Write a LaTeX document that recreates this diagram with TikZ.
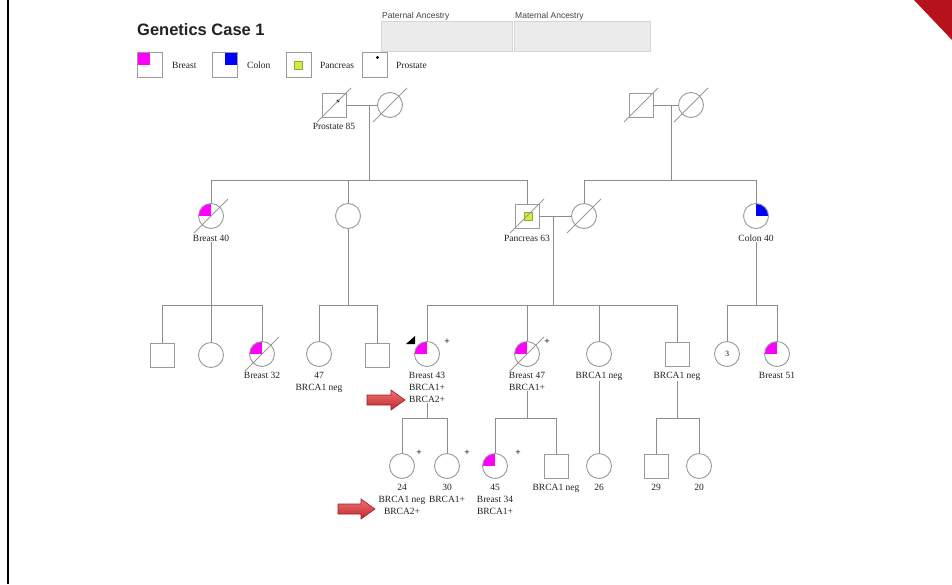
\documentclass[tikz,border=0pt]{standalone}
\usepackage{fontspec}
\setmainfont{Liberation Serif}
\newfontfamily\sansf{Liberation Sans}
\usetikzlibrary{calc}

\definecolor{symc}{HTML}{9A9A9A}
\definecolor{linec}{HTML}{8C8C8C}
\definecolor{brc}{HTML}{FF00FF}
\definecolor{coc}{HTML}{0000FF}
\definecolor{pac}{HTML}{CCEE44}
\definecolor{pab}{HTML}{9AA830}
\definecolor{txtc}{HTML}{222222}
\definecolor{boxc}{HTML}{EBEBEB}
\definecolor{boxb}{HTML}{D5D5D5}
\definecolor{cornerc}{HTML}{B5121B}
\definecolor{arrtop}{HTML}{EE7272}
\definecolor{arrbot}{HTML}{C0262C}
\definecolor{arredge}{HTML}{A01E24}

\newcommand\pedfont{\fontsize{9.5}{12}\selectfont}
\newcommand\deceased[1]{\draw[slash] ($(#1.center)+(-17,17)$) -- ($(#1.center)+(17,-17)$);}
% block arrow ending at a named tip, length #2
\newcommand\redarrowto[2]{%
  \draw[redarrow] (#1) -- ++(-14,-10) -- ++(0,5) -- ++(-#2+14,0) -- ++(0,10)
    -- ++(#2-14,0) -- ++(0,5) -- cycle;}

\tikzset{
  male/.style={draw=symc, line width=0.9pt, fill=white, minimum size=24pt, inner sep=0pt},
  female/.style={circle, draw=symc, line width=0.9pt, fill=white, minimum size=25pt, inner sep=0pt},
  breast/.style={path picture={\fill[brc] (path picture bounding box.center) rectangle (path picture bounding box.north west);}},
  colon/.style={path picture={\fill[coc] (path picture bounding box.center) rectangle (path picture bounding box.north east);}},
  link/.style={draw=linec, line width=0.8pt},
  slash/.style={draw=symc, line width=0.8pt},
  lbl/.style={font=\pedfont, align=center, inner sep=0pt, anchor=north, text=txtc},
  legtext/.style={font=\pedfont, inner sep=0pt, anchor=west, text=txtc},
  plus/.style={font=\pedfont\bfseries, inner sep=0pt, text=txtc},
  ancbox/.style={draw=boxb, fill=boxc, line width=0.6pt},
  anctext/.style={font=\sansf\fontsize{8.5}{10}\selectfont, text=txtc!85, inner sep=0pt, anchor=base west},
  redarrow/.style={draw=arredge, line width=0.6pt, line join=miter, top color=arrtop, bottom color=arrbot},
}

\begin{document}
\begin{tikzpicture}[x=1pt, y=-1pt]
  % page
  \fill[white] (0,0) rectangle (952,584);
  \useasboundingbox (0,0) rectangle (952,584);
  \draw[line width=1.4pt] (8,0) -- (8,584);
  \fill[cornerc] (914,0) -- (952,0) -- (952,40) -- cycle;

  % title
  \node[anchor=base west, inner sep=0pt, text=txtc,
        font=\sansf\bfseries\fontsize{16.5}{20}\selectfont] (title) at (137,35) {Genetics Case 1};

  % ancestry boxes
  \node[anctext] (pattxt) at (382,18) {Paternal Ancestry};
  \node[anctext] (mattxt) at (515,18) {Maternal Ancestry};
  \draw[ancbox] (381,21) rectangle (512,51);
  \draw[ancbox] (514,21) rectangle (650,51);

  % legend
  \node[male, minimum size=25pt, breast] (legbr) at (149.5,64.5) {};
  \node[legtext] (legbrt) at (172,65) {Breast};
  \node[male, minimum size=25pt, colon] (legco) at (224.5,64.5) {};
  \node[legtext] (legcot) at (247,65) {Colon};
  \node[male, minimum size=25pt] (legpa) at (298.5,64.5) {};
  \node[draw=pab, fill=pac, line width=0.5pt, minimum size=8pt, inner sep=0pt] (legpas) at (298.5,65) {};
  \node[legtext] (legpat) at (320,65) {Pancreas};
  \node[male, minimum size=25pt] (legpr) at (374.5,64.5) {};
  \fill[black] ($(legpr.center)+(3,-7)$) circle (1.7);
  \node[legtext] (legprt) at (396,65) {Prostate};

  % ---------- generation I ----------
  \node[male] (pm1) at (334,105) {};
  \node[female] (pf1) at (390,105) {};
  \fill[black] ($(pm1.center)+(4,-4)$) circle (1.7);
  \deceased{pm1} \deceased{pf1}
  \node[lbl] (lpm1) at (334,123) {Prostate 85};

  \node[male] (pm2) at (641,105) {};
  \node[female] (pf2) at (691,105) {};
  \deceased{pm2} \deceased{pf2}

  \draw[link] (pm1.east) -- (pf1.west);
  \draw[link] (pm2.east) -- (pf2.west);
  \coordinate (d1) at (369,105);
  \coordinate (s1) at (369,180);
  \coordinate (d2) at (671,105);
  \coordinate (s2) at (671,180);

  % ---------- generation II ----------
  \node[female, breast] (g2a) at (211,216) {};
  \node[female] (g2b) at (348,216) {};
  \node[male] (g2c) at (527,216) {};
  \node[draw=pab, fill=pac, line width=0.5pt, minimum size=8pt, inner sep=0pt] (g2cp) at (528,216) {};
  \node[female] (g2d) at (584,216) {};
  \node[female, colon] (g2e) at (756,216) {};
  \deceased{g2a} \deceased{g2c} \deceased{g2d}
  \node[lbl] (lg2a) at (211,235) {Breast 40};
  \node[lbl] (lg2c) at (527,235) {Pancreas 63};
  \node[lbl] (lg2e) at (756,235) {Colon 40};

  \draw[link] (d1) -- (s1);
  \draw[link] (g2a.north) -- (g2a.north |- s1) -- (g2c.north |- s1) -- (g2c.north);
  \draw[link] (g2b.north) -- (g2b.north |- s1);
  \draw[link] (d2) -- (s2);
  \draw[link] (g2d.north) -- (g2d.north |- s2) -- (g2e.north |- s2) -- (g2e.north);
  \draw[link] (g2c.east) -- (g2d.west);

  \coordinate (d3) at (553,216);
  \coordinate (s3) at (553,305);
  \coordinate (s4) at (211,305);
  \coordinate (s5) at (348,305);
  \coordinate (s6) at (756,305);

  % ---------- generation III ----------
  \node[male] (a1) at (162,355) {};
  \node[female] (a2) at (211,355) {};
  \node[female, breast] (a3) at (262,354) {};
  \node[female] (b1) at (319,354) {};
  \node[male] (b2) at (377,355) {};
  \node[female, breast] (c43) at (427,354) {};
  \node[female, breast] (c47) at (527,354) {};
  \node[female] (c99) at (599,354) {};
  \node[male] (c77) at (677,354) {};
  \node[female, font=\fontsize{8}{9}\selectfont] (e1) at (727,354) {3};
  \node[female, breast] (e2) at (777,354) {};
  \deceased{a3} \deceased{c47}

  \node[lbl] (la3) at (262,372) {Breast 32};
  \node[lbl] (lb1) at (319,372) {47\\BRCA1 neg};
  \node[lbl] (l43) at (427,372) {Breast 43\\BRCA1+\\BRCA2+};
  \node[lbl] (l47) at (527,372) {Breast 47\\BRCA1+};
  \node[lbl] (l99) at (599,372) {BRCA1 neg};
  \node[lbl] (l77) at (677,372) {BRCA1 neg};
  \node[lbl] (le2) at (777,372) {Breast 51};
  \node[plus] (p43) at ($(c43.center)+(20,-12)$) {+};
  \node[plus] (p47) at ($(c47.center)+(20,-12)$) {+};
  \fill[black] ($(c43.center)+(-21,-10)$) -- ($(c43.center)+(-12,-10)$) -- ($(c43.center)+(-12,-18)$) -- cycle;

  \draw[link] (lg2a.south) -- (s4);
  \draw[link] (a1.north) -- (a1.north |- s4) -- (a3.north |- s4) -- (a3.north);
  \draw[link] (a2.north) -- (a2.north |- s4);
  \draw[link] (g2b.south) -- (s5);
  \draw[link] (b1.north) -- (b1.north |- s5) -- (b2.north |- s5) -- (b2.north);
  \draw[link] (d3) -- (s3);
  \draw[link] (c43.north) -- (c43.north |- s3) -- (c77.north |- s3) -- (c77.north);
  \draw[link] (c47.north) -- (c47.north |- s3);
  \draw[link] (c99.north) -- (c99.north |- s3);
  \draw[link] (lg2e.south) -- (s6);
  \draw[link] (e1.north) -- (e1.north |- s6) -- (e2.north |- s6) -- (e2.north);

  \coordinate (s7) at (427,418);
  \coordinate (s8) at (527,418);
  \coordinate (s9) at (677,418);

  % ---------- generation IV ----------
  \node[female] (k1) at (402,466) {};
  \node[female] (k2) at (447,466) {};
  \node[female, breast] (m1) at (495,466) {};
  \node[male] (m2) at (556,466) {};
  \node[female] (n1) at (599,466) {};
  \node[male] (q1) at (656,466) {};
  \node[female] (q2) at (699,466) {};

  \node[lbl] (lk1) at (402,484) {24\\BRCA1 neg\\BRCA2+};
  \node[lbl] (lk2) at (447,484) {30\\BRCA1+};
  \node[lbl] (lm1) at (495,484) {45\\Breast 34\\BRCA1+};
  \node[lbl] (lm2) at (556,484) {BRCA1 neg};
  \node[lbl] (ln1) at (599,484) {26};
  \node[lbl] (lq1) at (656,484) {29};
  \node[lbl] (lq2) at (699,484) {20};
  \node[plus] (pk1) at ($(k1.center)+(17,-13)$) {+};
  \node[plus] (pk2) at ($(k2.center)+(20,-13)$) {+};
  \node[plus] (pm1p) at ($(m1.center)+(23,-13)$) {+};

  \draw[link] (l43.south) -- (s7);
  \draw[link] (k1.north) -- (k1.north |- s7) -- (k2.north |- s7) -- (k2.north);
  \draw[link] (l47.south) -- (s8);
  \draw[link] (m1.north) -- (m1.north |- s8) -- (m2.north |- s8) -- (m2.north);
  \draw[link] (l99.south) -- (n1.north);
  \draw[link] (l77.south) -- (s9);
  \draw[link] (q1.north) -- (q1.north |- s9) -- (q2.north |- s9) -- (q2.north);

  % pointers to the BRCA2 results
  \coordinate (tip1) at (405,400);
  \coordinate (tip2) at (375,509);
  \redarrowto{tip1}{38}
  \redarrowto{tip2}{37}
\end{tikzpicture}
\end{document}
